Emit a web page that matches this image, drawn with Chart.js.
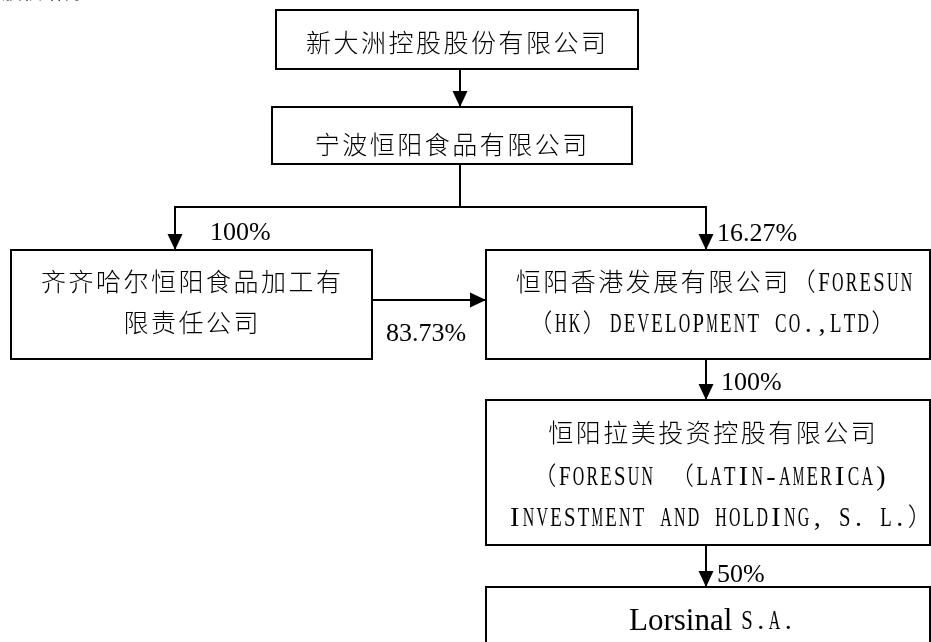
<!DOCTYPE html>
<html><head><meta charset="utf-8">
<script src="https://cdn.jsdelivr.net/npm/chart.js@4/dist/chart.umd.min.js"></script>
<style>html,body{margin:0;padding:0;background:#fff;overflow:hidden}#wrap{position:relative;width:931px;height:642px}</style>
</head><body><div id="wrap"><canvas id="c"></canvas></div>
<script>
// ---------- data ----------
const headerText = '股权结构：';
const companyLines = [
  ['新大洲控股股份有限公司'],
  ['宁波恒阳食品有限公司'],
  ['齐齐哈尔恒阳食品加工有', '限责任公司'],
  ['恒阳香港发展有限公司（FORESUN', '（HK）DEVELOPMENT CO.,LTD）'],
  ['恒阳拉美投资控股有限公司', '（FORESUN （LATIN-AMERICA)', 'INVESTMENT AND HOLDING, S. L.）'],
  ['Lorsinal S.A.']
];
const holderIndex     = [0, 1, 1, 2, 3, 4];
const subsidiaryIndex = [1, 2, 3, 3, 4, 5];
const stakePercent    = [null, 100, 16.27, 83.73, 100, 50];

// ---------- layout (positions in scale units) ----------
const layout = {
  boxes: [
    {l:276, t:10,  r:638, b:69,  cx:456, lineY:[43]},
    {l:272, t:107, r:632, b:164, cx:451, lineY:[145]},
    {l:11,  t:250, r:372, b:359, cx:191, lineY:[282, 323]},
    {l:486, t:250, r:930, b:359, cx:712, lineY:[282, 323], lineDx:[2, 0]},
    {l:486, t:400, r:930, b:545, cx:712, lineY:[433, 476, 517], lineDx:[0, -3, 9]},
    {l:486, t:587, r:930, b:680, cx:712, lineY:[620], romanPrefix:'Lorsinal '}
  ],
  routes: [
    [[460,69],[460,107]],
    [[460,164],[460,207],[175,207],[175,250]],
    [[460,207],[706,207],[706,250]],
    [[372,300],[486,300]],
    [[706,359],[706,400]],
    [[706,545],[706,587]]
  ],
  labels: [null, [210,231], [717,232], [386,332], [721,381], [717,573]]
};

const CJK_FONT = '300 25px "Noto Sans CJK SC"';
const LAT_FONT = '28px "Liberation Serif"';
const PCT_FONT = '26px "Liberation Serif"';
const FULL = 27.5, HALF = 13.75;

function drawMixed(ctx, text, cx, baseline) {
  const chars = [...text];
  const widths = chars.map(ch => ch.charCodeAt(0) < 128 ? HALF : FULL);
  const total = widths.reduce((a, b) => a + b, 0);
  let x = cx - total / 2;
  chars.forEach((ch, i) => {
    const w = widths[i], mid = x + w / 2;
    if (ch !== ' ') {
      ctx.save();
      ctx.textAlign = 'center';
      ctx.textBaseline = 'alphabetic';
      if (ch.charCodeAt(0) < 128) {
        ctx.font = LAT_FONT;
        const m = ctx.measureText(ch).width;
        const s = Math.min(1, 11.5 / m);
        ctx.translate(mid, baseline);
        ctx.scale(s, 1);
        ctx.fillText(ch, 0, 0);
      } else {
        ctx.font = CJK_FONT;
        ctx.fillText(ch, mid, baseline);
      }
      ctx.restore();
    }
    x += w;
  });
}

const orgPlugin = {
  id: 'org',
  afterDraw(chart) {
    const ctx = chart.ctx, xs = chart.scales.x, ys = chart.scales.y;
    const X = v => xs.getPixelForValue(v), Y = v => ys.getPixelForValue(v);
    ctx.save();
    ctx.fillStyle = '#000';
    ctx.strokeStyle = '#000';
    // header (cut off at the top edge in the source image)
    ctx.font = '20px "Noto Sans CJK SC"';
    ctx.textAlign = 'left';
    ctx.textBaseline = 'alphabetic';
    ctx.fillText(headerText, X(2), Y(-1.5));
    // boxes
    ctx.lineWidth = 2;
    layout.boxes.forEach((b, i) => {
      ctx.strokeRect(X(b.l), Y(b.t), X(b.r) - X(b.l), Y(b.b) - Y(b.t));
      companyLines[i].forEach((line, k) => {
        const base = Y(b.lineY[k]) + 9;
        const cx = X(b.cx + (b.lineDx ? b.lineDx[k] : 0));
        if (b.romanPrefix && line.startsWith(b.romanPrefix)) {
          ctx.font = '31px "Liberation Serif"';
          const pw = ctx.measureText(b.romanPrefix).width;
          const rest = line.slice(b.romanPrefix.length);
          const rw = [...rest].length * HALF;
          const start = cx - (pw + rw) / 2;
          ctx.textAlign = 'left';
          ctx.textBaseline = 'alphabetic';
          ctx.fillText(b.romanPrefix, start, base + 1);
          drawMixed(ctx, rest, start + pw + rw / 2, base);
        } else {
          drawMixed(ctx, line, cx, base);
        }
      });
    });
    // edges with arrowheads
    layout.routes.forEach((pts) => {
      ctx.beginPath();
      pts.forEach(([px, py], j) => {
        const a = X(px), c = Y(py);
        if (j === 0) ctx.moveTo(a, c); else ctx.lineTo(a, c);
      });
      const n = pts.length;
      const [x1, y1] = pts[n - 2], [x2, y2] = pts[n - 1];
      const tx = X(x2), ty = Y(y2);
      const ang = Math.atan2(Y(y2) - Y(y1), X(x2) - X(x1));
      const L = 16, W = 7.5;
      const bx = tx - L * Math.cos(ang), by = ty - L * Math.sin(ang);
      ctx.lineWidth = 2;
      ctx.lineJoin = 'miter';
      ctx.stroke();
      ctx.beginPath();
      ctx.moveTo(tx, ty);
      ctx.lineTo(bx + W * Math.sin(ang), by - W * Math.cos(ang));
      ctx.lineTo(bx - W * Math.sin(ang), by + W * Math.cos(ang));
      ctx.closePath();
      ctx.fill();
    });
    // stake labels
    ctx.font = PCT_FONT;
    ctx.textAlign = 'left';
    ctx.textBaseline = 'alphabetic';
    stakePercent.forEach((p, e) => {
      if (p === null || !layout.labels[e]) return;
      const [lx, ly] = layout.labels[e];
      ctx.fillText(p + '%', X(lx), Y(ly) + 9);
    });
    ctx.restore();
  }
};

new Chart(document.getElementById('c'), {
  type: 'scatter',
  data: { datasets: [{ data: [], pointRadius: 0 }] },
  options: {
    responsive: true,
    maintainAspectRatio: false,
    animation: false,
    layout: { padding: 0 },
    plugins: { legend: { display: false }, tooltip: { enabled: false } },
    scales: {
      x: { type: 'linear', min: 0, max: 931, display: false },
      y: { type: 'linear', min: 0, max: 642, reverse: true, display: false }
    }
  },
  plugins: [orgPlugin]
});
</script>
</body></html>
